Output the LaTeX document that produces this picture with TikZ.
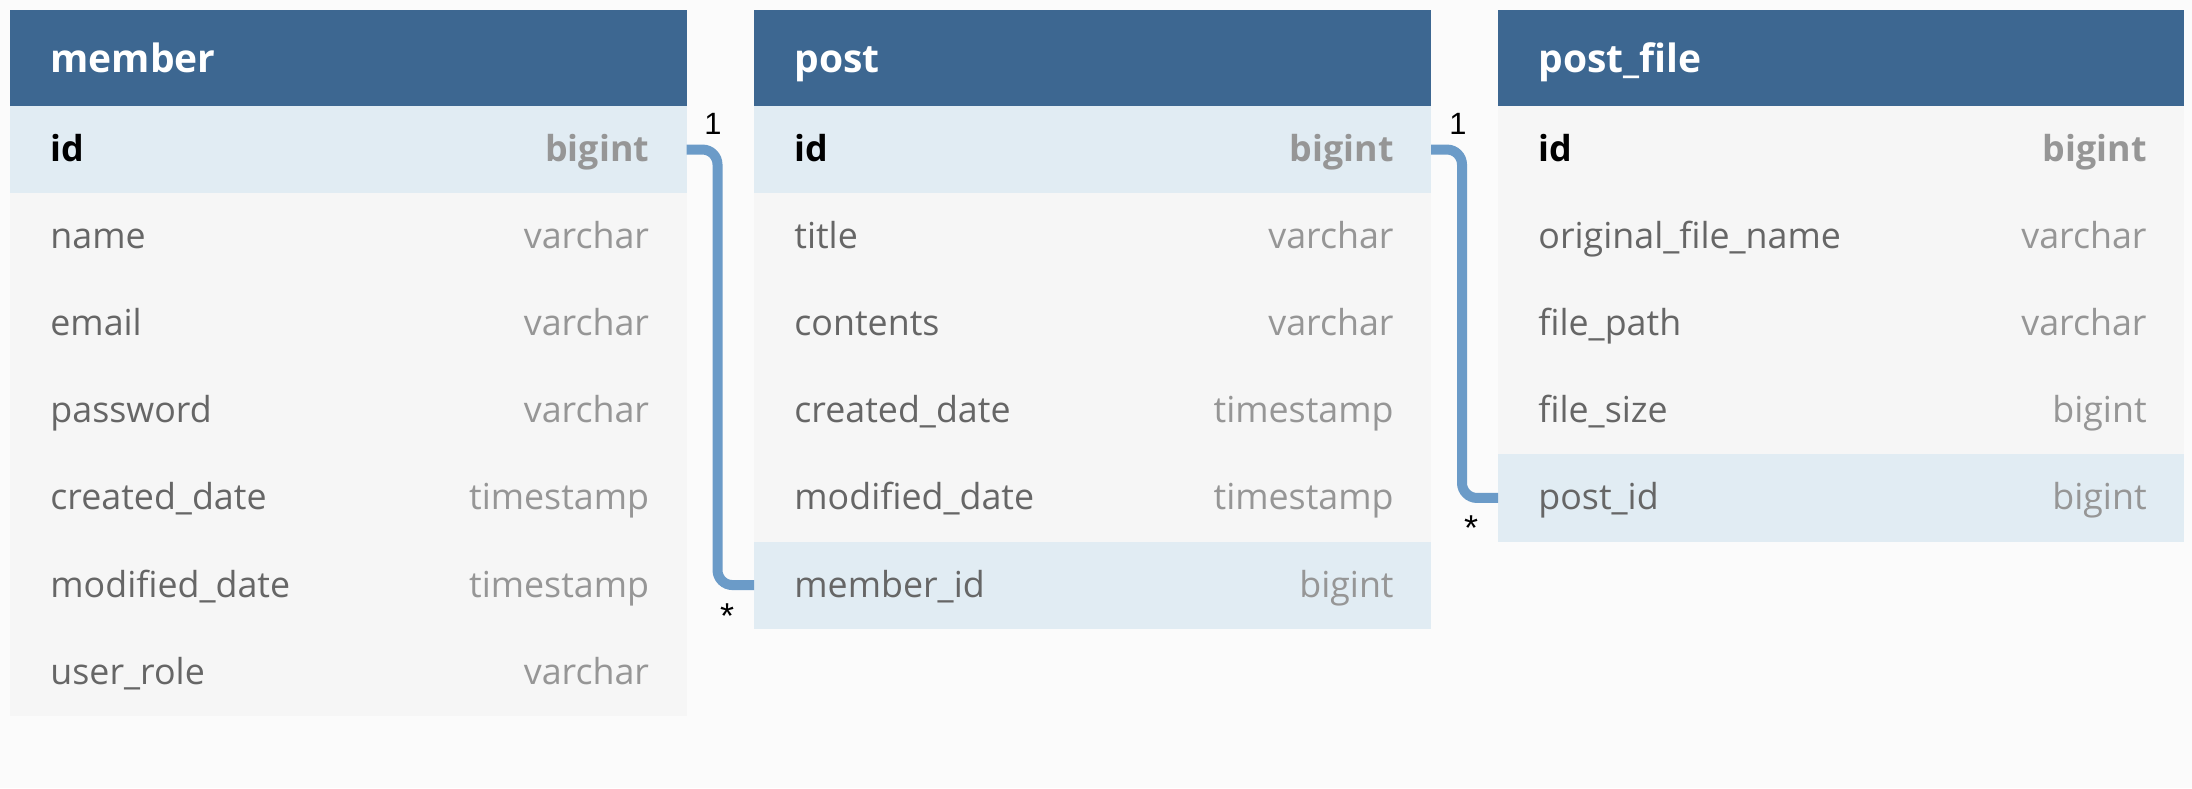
\documentclass[tikz,border=0pt]{standalone}
\usepackage{fontspec}
\setmainfont{Open Sans}
\newfontfamily\lblfont{Liberation Sans}
\definecolor{hdrblue}{RGB}{61,103,145}
\definecolor{rowblue}{RGB}{225,236,243}
\definecolor{rowgray}{RGB}{246,246,246}
\definecolor{bgc}{RGB}{251,251,251}
\definecolor{fldc}{RGB}{102,102,102}
\definecolor{typc}{RGB}{150,150,150}
\definecolor{connc}{RGB}{107,155,200}
\tikzset{
  rowbox/.style={draw=none, inner sep=0pt, outer sep=0pt, minimum height=43.55pt, anchor=north west},
  hdrbox/.style={rowbox, fill=hdrblue, minimum height=48pt},
  rowplain/.style={rowbox, fill=rowgray},
  rowpk/.style={rowbox, fill=rowblue},
  rowfk/.style={rowbox, fill=rowblue},
  rowpkplain/.style={rowbox, fill=rowgray},
  txt/.style={inner sep=0pt, font=\fontsize{17.9}{20}\selectfont},
  fldrowplain/.style={txt, anchor=base west, text=fldc},
  fldrowfk/.style={txt, anchor=base west, text=fldc},
  fldrowpk/.style={txt, anchor=base west, text=black, font=\fontsize{17.9}{20}\selectfont\bfseries},
  fldrowpkplain/.style={fldrowpk},
  typrowplain/.style={txt, anchor=base east, text=typc},
  typrowfk/.style={txt, anchor=base east, text=typc},
  typrowpk/.style={txt, anchor=base east, text=typc, font=\fontsize{17.9}{20}\selectfont\bfseries},
  typrowpkplain/.style={typrowpk},
  hdrtxt/.style={inner sep=0pt, anchor=base west, text=white, font=\fontsize{19.5}{22}\selectfont\bfseries},
  conn/.style={draw=connc, line width=5pt, rounded corners=7.5pt},
  cardone/.style={inner sep=0pt, anchor=base, font=\lblfont\fontsize{15.4}{17}\selectfont, text=black},
  cardmany/.style={inner sep=0pt, anchor=base, font=\lblfont\fontsize{18}{20}\selectfont, text=black},
}
\newcommand\erow[6]{%
  \node[#2, minimum width=#6] (#1) at #3 {};
  \node[fld#2] at ([shift={(40,55.5)}]#1.north west) {#4};
  \node[typ#2] at ([shift={(-37,55.5)}]#1.north east) {#5};
}
\newcommand\ehdr[4]{%
  \node[hdrbox, minimum width=#4] (#1) at #2 {};
  \node[hdrtxt] at ([shift={(40,62)}]#1.north west) {#3};
}
\begin{document}
\begin{tikzpicture}[x=0.5pt, y=-0.5pt]
\useasboundingbox (0,0) rectangle (2192,788);
\fill[bgc] (0,0) rectangle (2192,788);
% member
\ehdr{mh}{(10,10)}{member}{338.25pt}
\erow{m1}{rowpk}{(10,106)}{id}{bigint}{338.25pt}
\erow{m2}{rowplain}{(10,193.1)}{name}{varchar}{338.25pt}
\erow{m3}{rowplain}{(10,280.2)}{email}{varchar}{338.25pt}
\erow{m4}{rowplain}{(10,367.3)}{password}{varchar}{338.25pt}
\erow{m5}{rowplain}{(10,454.4)}{created\_date}{timestamp}{338.25pt}
\erow{m6}{rowplain}{(10,541.5)}{modified\_date}{timestamp}{338.25pt}
\erow{m7}{rowplain}{(10,628.6)}{user\_role}{varchar}{338.25pt}
% post
\ehdr{ph}{(754,10)}{post}{338.5pt}
\erow{p1}{rowpk}{(754,106)}{id}{bigint}{338.5pt}
\erow{p2}{rowplain}{(754,193.1)}{title}{varchar}{338.5pt}
\erow{p3}{rowplain}{(754,280.2)}{contents}{varchar}{338.5pt}
\erow{p4}{rowplain}{(754,367.3)}{created\_date}{timestamp}{338.5pt}
\erow{p5}{rowplain}{(754,454.4)}{modified\_date}{timestamp}{338.5pt}
\erow{p6}{rowfk}{(754,541.5)}{member\_id}{bigint}{338.5pt}
% post_file
\ehdr{fh}{(1498,10)}{post\_file}{343pt}
\erow{f1}{rowpkplain}{(1498,106)}{id}{bigint}{343pt}
\erow{f2}{rowplain}{(1498,193.1)}{original\_file\_name}{varchar}{343pt}
\erow{f3}{rowplain}{(1498,280.2)}{file\_path}{varchar}{343pt}
\erow{f4}{rowplain}{(1498,367.3)}{file\_size}{bigint}{343pt}
\erow{f5}{rowfk}{(1498,454.4)}{post\_id}{bigint}{343pt}
% connectors
\draw[conn] (m1.east) -- ++(31,0) |- (p6.west);
\draw[conn] (p1.east) -- ++(31,0) |- (f5.west);
\node[cardone] (c1) at ([shift={(26.5,-15.5)}]m1.east) {1};
\node[cardmany] (c2) at ([shift={(-27,43)}]p6.west) {*};
\node[cardone] (c3) at ([shift={(27,-15.5)}]p1.east) {1};
\node[cardmany] (c4) at ([shift={(-27,43)}]f5.west) {*};
\end{tikzpicture}
\end{document}
